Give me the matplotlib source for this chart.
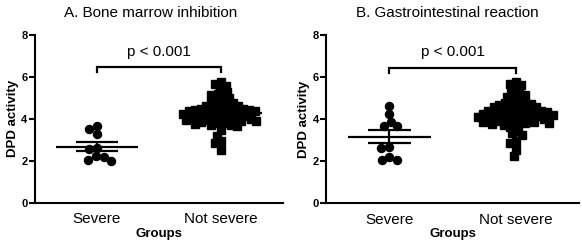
import numpy as np
import matplotlib
matplotlib.use("Agg")
import matplotlib.pyplot as plt

plt.rcParams['font.family'] = ['Liberation Sans', 'DejaVu Sans']

categories = ["Severe", "Not severe"]
yticks = [0, 2, 4, 6, 8]
titles = ["A. Bone marrow inhibition", "B. Gastrointestinal reaction"]
p_text = "p < 0.001"

bone_severe = [3.64, 3.49, 3.25, 2.58, 2.56, 2.17, 2.00, 2.05, 2.20]
bone_not_severe = [5.76, 5.65, 5.57, 5.44, 5.28, 5.17, 5.12, 4.99, 4.99, 4.85,
                   4.80, 4.77, 4.72, 4.59, 4.59, 4.56, 4.50, 4.50, 4.48, 4.45,
                   4.42, 4.40, 4.38, 4.35, 4.32, 4.30, 4.28, 4.25, 4.22, 4.20,
                   4.18, 4.15, 4.12, 4.10, 4.08, 4.05, 4.02, 4.00, 3.98, 3.95,
                   3.92, 3.90, 3.88, 3.85, 3.82, 3.80, 3.75, 3.72, 3.68, 3.65,
                   3.44, 3.20, 2.93, 2.84, 2.49]

gi_severe = [4.62, 4.24, 3.87, 3.68, 3.65, 2.65, 2.62, 2.20, 2.05, 2.07]
gi_not_severe = [5.78, 5.67, 5.62, 5.46, 5.30, 5.22, 5.14, 5.06, 5.06, 4.87,
                 4.80, 4.80, 4.78, 4.70, 4.67, 4.60, 4.58, 4.55, 4.50, 4.48,
                 4.45, 4.43, 4.40, 4.38, 4.35, 4.32, 4.30, 4.28, 4.25, 4.22,
                 4.20, 4.18, 4.15, 4.12, 4.10, 4.08, 4.05, 4.02, 4.00, 3.98,
                 3.95, 3.92, 3.90, 3.88, 3.85, 3.82, 3.80, 3.76, 3.72, 3.70,
                 3.62, 3.44, 3.32, 3.24, 2.97, 2.87, 2.52, 2.24]

bracket_y = [6.45, 6.42]
p_y = [7.2, 7.2]


def swarm_offsets(values, px_x, px_y, d=6.2):
    """Beeswarm layout computed in pixel space, returned in x data units."""
    ys = np.asarray(values, dtype=float) * px_y
    order = np.argsort(-ys)
    xs = np.zeros(len(ys))
    placed = []
    for i in order:
        y = ys[i]
        intervals = []
        for (px, py) in placed:
            dy = abs(py - y)
            if dy < d:
                w = np.sqrt(d * d - dy * dy)
                intervals.append((px - w, px + w))
        cands = [0.0] + [a for a, b in intervals] + [b for a, b in intervals]
        cands = sorted(cands, key=lambda c: (abs(c), c))
        for c in cands:
            if all(not (a + 1e-9 < c < b - 1e-9) for a, b in intervals):
                xs[i] = c
                break
        placed.append((xs[i], y))
    return xs / px_x


fig = plt.figure(figsize=(5.82, 2.45), dpi=100)
W, H = 582.0, 245.0
axes_px = [(34.5, 35, 283, 202.5), (326, 35, 579, 203)]
title_x = [0.469, 0.478]
swarm_d = [(8.0, 6.2), (8.0, 6.2)]

groups = [(bone_severe, bone_not_severe), (gi_severe, gi_not_severe)]

for idx, (ax_box, (sev, nsev)) in enumerate(zip(axes_px, groups)):
    x0, y0, x1, y1 = ax_box
    ax = fig.add_axes([x0 / W, 1 - y1 / H, (x1 - x0) / W, (y1 - y0) / H])
    ax.set_xlim(0.5, 2.5)
    ax.set_ylim(0, 8)
    px_x = (x1 - x0) / 2.0
    px_y = (y1 - y0) / 8.0
    for sp in ['top', 'right']:
        ax.spines[sp].set_visible(False)
    for sp in ['left', 'bottom']:
        ax.spines[sp].set_linewidth(1.5)
    data = [sev, nsev]
    markers = ['o', 's']
    msizes = [5.8, 5.4]
    for gi, (vals, mk, ms) in enumerate(zip(data, markers, msizes)):
        xpos = gi + 1
        offs = swarm_offsets(vals, px_x, px_y, d=swarm_d[idx][gi])
        ax.plot(xpos + offs, vals, linestyle='none', marker=mk, ms=ms,
                color='black', mec='black', zorder=3)
        m = np.mean(vals)
        sem = np.std(vals, ddof=1) / np.sqrt(len(vals))
        ax.hlines(m, xpos - 0.33, xpos + 0.33, color='black', lw=1.6, zorder=4)
        ax.hlines([m - sem, m + sem], xpos - 0.17, xpos + 0.17, color='black',
                  lw=1.6, zorder=4)
        ax.vlines(xpos, m - sem, m + sem, color='black', lw=1.6, zorder=4)
    by = bracket_y[idx]
    ax.plot([1, 1, 2, 2], [by - 0.22, by, by, by - 0.22], color='black',
            lw=1.6, solid_joinstyle='miter', clip_on=False)
    ax.text(1.5, p_y[idx], p_text, ha='center', va='center', fontsize=11)
    ax.set_xticks([1, 2])
    ax.set_xticklabels(categories, fontsize=11)
    ax.tick_params(axis='x', length=0, pad=7)
    ax.set_yticks(yticks)
    ax.set_yticklabels([str(t) for t in yticks], fontsize=8, fontweight='bold')
    ax.tick_params(axis='y', length=4, width=1.5, pad=1)
    ax.set_ylabel("DPD activity", fontsize=9.5, fontweight='bold', labelpad=2)
    ax.set_xlabel("Groups", fontsize=9.5, fontweight='bold', labelpad=1)
    ax.set_title(titles[idx], fontsize=11, pad=13, x=title_x[idx])

fig.savefig("out.png", dpi=100)
